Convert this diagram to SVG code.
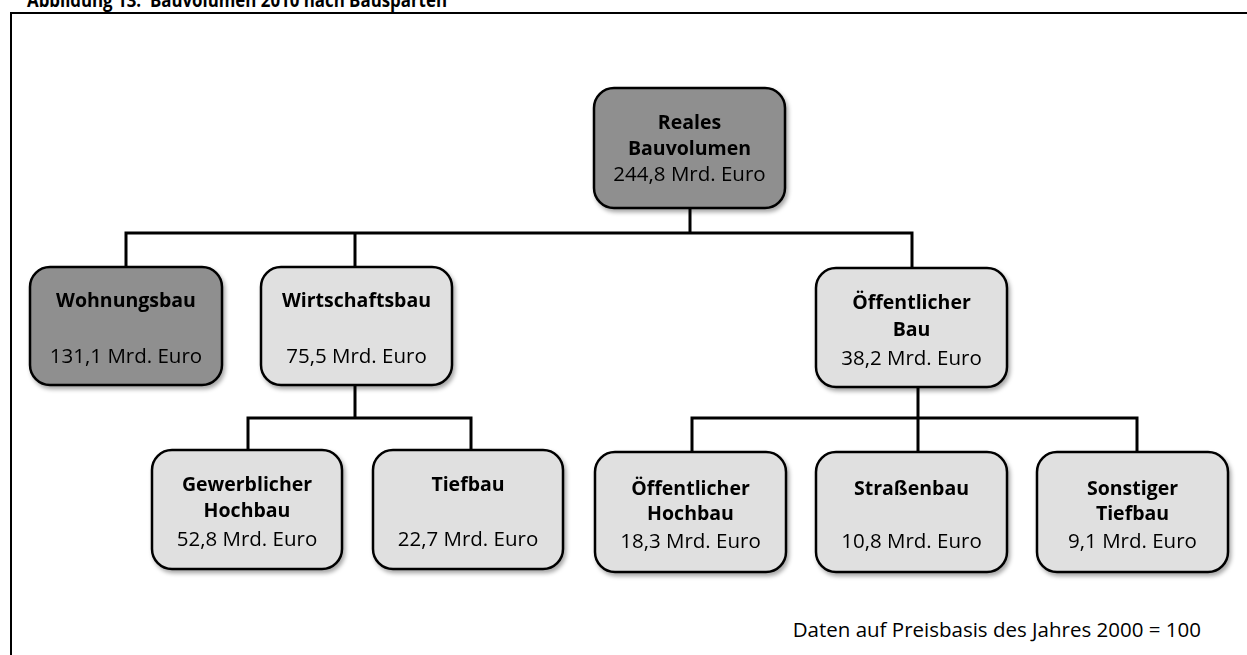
<svg xmlns="http://www.w3.org/2000/svg" width="1247" height="655" viewBox="0 0 1247 655">
<style>
.box{stroke:#000;stroke-width:2.5}
.dark{fill:#8f8f8f}
.light{fill:#e0e0e0}
text{font-family:"Open Sans","Liberation Sans",sans-serif;fill:#000;text-anchor:middle}
.b{font-weight:bold;font-size:19.5px}
.v{font-size:20.5px}
.conn{stroke:#000;stroke-width:3;fill:none}
</style>
<defs>
<filter id="sh" x="-10%" y="-10%" width="130%" height="130%">
<feDropShadow dx="2" dy="3" stdDeviation="2" flood-color="#000" flood-opacity="0.35"/>
</filter>
</defs>
<rect width="1247" height="655" fill="#fff"/>
<text x="27" y="7" xml:space="preserve" textLength="420" lengthAdjust="spacingAndGlyphs" style="text-anchor:start;font-weight:bold;font-size:19px">Abbildung 13:  Bauvolumen 2010 nach Bausparten</text>
<rect x="11" y="13" width="1260" height="700" fill="none" stroke="#000" stroke-width="2"/>
<g id="connectors">
<path class="conn" d="M690 208V233M126 267V233H912V268"/>
<path class="conn" d="M355 233V267"/>
<path class="conn" d="M355 385V418M248 450V418H471V450"/>
<path class="conn" d="M918 387V418M692 452V418H1137V452M918 418V452"/>
</g>
<g id="reales" filter="url(#sh)">
<rect class="box dark" x="594" y="88" width="191" height="120" rx="20"/>
<text class="b" x="689.5" y="129">Reales</text>
<text class="b" x="689.5" y="155">Bauvolumen</text>
<text class="v" x="689.5" y="181">244,8 Mrd. Euro</text>
</g>
<g id="wohnungsbau" filter="url(#sh)">
<rect class="box dark" x="30" y="267" width="192" height="118" rx="20"/>
<text class="b" x="126" y="307">Wohnungsbau</text>
<text class="v" x="126" y="363">131,1 Mrd. Euro</text>
</g>
<g id="wirtschaftsbau" filter="url(#sh)">
<rect class="box light" x="261" y="267" width="191" height="118" rx="20"/>
<text class="b" x="356.5" y="307">Wirtschaftsbau</text>
<text class="v" x="356.5" y="363">75,5 Mrd. Euro</text>
</g>
<g id="oeffentlicher-bau" filter="url(#sh)">
<rect class="box light" x="816" y="268" width="191" height="119" rx="20"/>
<text class="b" x="911.5" y="309">Öffentlicher</text>
<text class="b" x="911.5" y="336">Bau</text>
<text class="v" x="911.5" y="365">38,2 Mrd. Euro</text>
</g>
<g id="gewerblicher-hochbau" filter="url(#sh)">
<rect class="box light" x="152" y="450" width="190" height="119" rx="20"/>
<text class="b" x="247" y="491">Gewerblicher</text>
<text class="b" x="247" y="517">Hochbau</text>
<text class="v" x="247" y="546">52,8 Mrd. Euro</text>
</g>
<g id="tiefbau" filter="url(#sh)">
<rect class="box light" x="373" y="450" width="190" height="119" rx="20"/>
<text class="b" x="468" y="491">Tiefbau</text>
<text class="v" x="468" y="546">22,7 Mrd. Euro</text>
</g>
<g id="oeffentlicher-hochbau" filter="url(#sh)">
<rect class="box light" x="595" y="452" width="191" height="120" rx="20"/>
<text class="b" x="690.5" y="495">Öffentlicher</text>
<text class="b" x="690.5" y="520">Hochbau</text>
<text class="v" x="690.5" y="548">18,3 Mrd. Euro</text>
</g>
<g id="strassenbau" filter="url(#sh)">
<rect class="box light" x="816" y="452" width="191" height="120" rx="20"/>
<text class="b" x="911.5" y="495">Straßenbau</text>
<text class="v" x="911.5" y="548">10,8 Mrd. Euro</text>
</g>
<g id="sonstiger-tiefbau" filter="url(#sh)">
<rect class="box light" x="1037" y="452" width="191" height="120" rx="20"/>
<text class="b" x="1132.5" y="495">Sonstiger</text>
<text class="b" x="1132.5" y="520">Tiefbau</text>
<text class="v" x="1132.5" y="548">9,1 Mrd. Euro</text>
</g>
<text x="1201" y="637" style="text-anchor:end;font-size:20.5px">Daten auf Preisbasis des Jahres 2000 = 100</text>
</svg>
